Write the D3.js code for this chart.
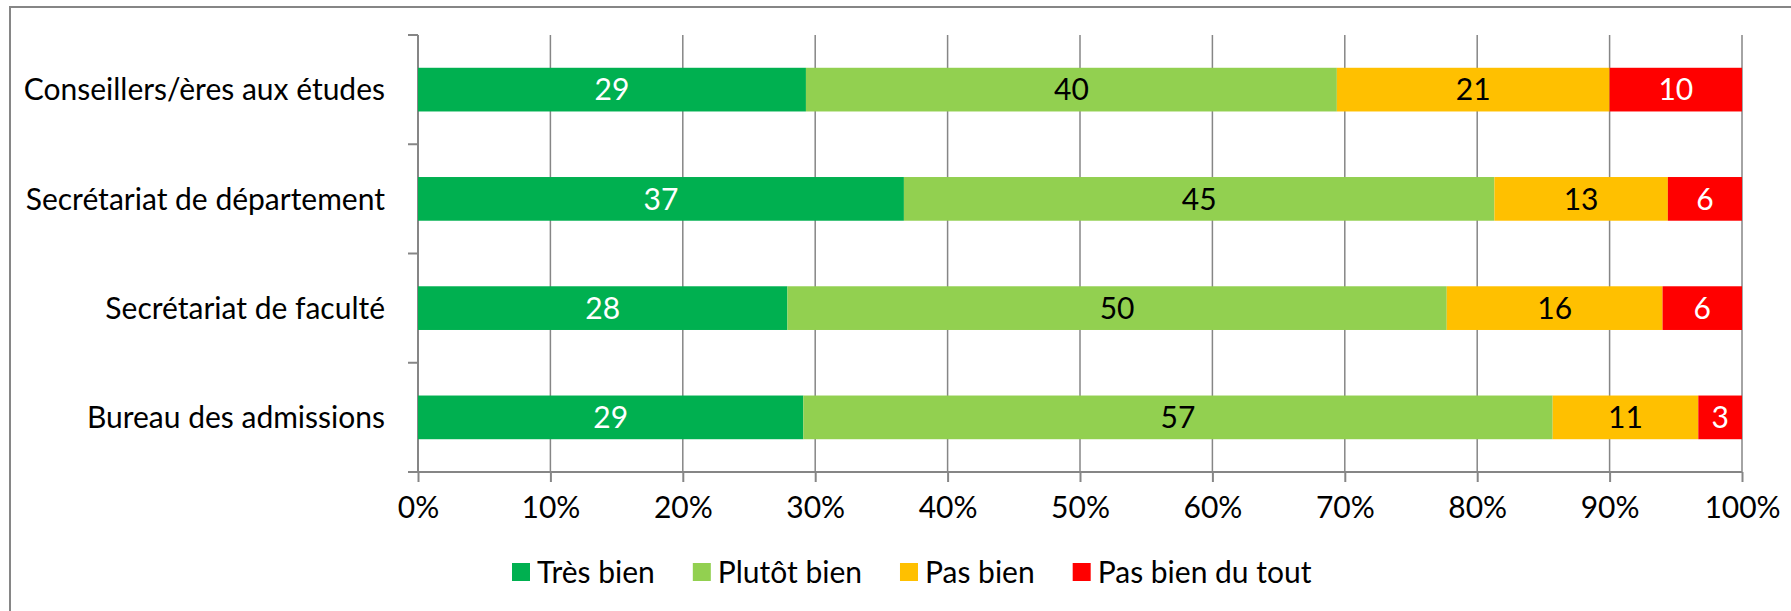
<!DOCTYPE html>
<html>
<head>
<meta charset="utf-8">
<script src="https://cdn.jsdelivr.net/npm/d3@7"></script>
<style>
    body { margin: 0; background: #fff; }
    text { font-family: Lato, "Open Sans", sans-serif; fill: #000; }
</style>
</head>
<body>
<div id="graph"></div>
<script>

const categories = ["Conseillers/ères aux études", "Secrétariat de département", "Secrétariat de faculté", "Bureau des admissions"]
const series = ["Très bien", "Plutôt bien", "Pas bien", "Pas bien du tout"]
const tresBien = [29.3, 36.7, 27.9, 29.1]
const plutotBien = [40.1, 44.6, 49.8, 56.6]
const pasBien = [20.6, 13.1, 16.3, 11.0]
const pasBienDuTout = [10.0, 5.6, 6.0, 3.3]
const xTicks = [0, 10, 20, 30, 40, 50, 60, 70, 80, 90, 100]

const colors = ["#00B050", "#92D050", "#FFC000", "#FF0000"]
const labelColors = ["#fff", "#000", "#000", "#fff"]
const gray = "#868686"

const width = 1791, height = 611
const plot = {left: 418, right: 1742, top: 35, bottom: 472}
const fontSize = 30

let rows = categories.map(function(c, i) {
    return {
        cat: c,
        "Très bien": tresBien[i],
        "Plutôt bien": plutotBien[i],
        "Pas bien": pasBien[i],
        "Pas bien du tout": pasBienDuTout[i]
    }
})

let stacked = d3.stack().keys(series)(rows)

let svg = d3.select("#graph")
    .append("svg")
    .attr("width", width)
    .attr("height", height)

// chart frame (runs off the right and bottom edges)
svg.append("rect")
    .attr("x", 10)
    .attr("y", 7)
    .attr("width", width + 20)
    .attr("height", height + 20)
    .attr("fill", "none")
    .attr("stroke", gray)
    .attr("stroke-width", 2)

let x = d3.scaleLinear()
    .domain([0, 100])
    .range([plot.left, plot.right])

let y = d3.scaleBand()
    .domain(categories)
    .range([plot.top, plot.bottom])
    .paddingInner(0.6)
    .paddingOuter(0.3)

// vertical gridlines
svg.append("g")
    .selectAll("line")
    .data(xTicks.slice(1))
    .enter()
    .append("line")
    .attr("x1", d => x(d))
    .attr("x2", d => x(d))
    .attr("y1", plot.top)
    .attr("y2", plot.bottom)
    .style("stroke", gray)
    .style("stroke-width", 1.5)

// x axis
let xAxis = svg.append("g")
    .attr("transform", `translate(0, ${plot.bottom})`)
    .call(d3.axisBottom(x)
        .tickValues(xTicks)
        .tickFormat(d => d + "%")
        .tickSize(10)
        .tickPadding(15))

xAxis.select(".domain").remove()
xAxis.selectAll("line").style("stroke", gray).style("stroke-width", 2)
xAxis.selectAll("text")
    .style("font-size", fontSize + "px")
    .style("font-family", "Lato, sans-serif")
    .attr("fill", "#000")

svg.append("line")
    .attr("x1", plot.left - 10)
    .attr("x2", plot.right)
    .attr("y1", plot.bottom)
    .attr("y2", plot.bottom)
    .style("stroke", gray)
    .style("stroke-width", 2)

// y axis line + ticks between categories
svg.append("line")
    .attr("x1", plot.left)
    .attr("x2", plot.left)
    .attr("y1", plot.top)
    .attr("y2", plot.bottom)
    .style("stroke", gray)
    .style("stroke-width", 2)

svg.append("g")
    .selectAll("line")
    .data(d3.range(categories.length + 1))
    .enter()
    .append("line")
    .attr("x1", plot.left - 10)
    .attr("x2", plot.left)
    .attr("y1", i => plot.top + i * y.step())
    .attr("y2", i => plot.top + i * y.step())
    .style("stroke", gray)
    .style("stroke-width", 2)

svg.append("g")
    .selectAll("text")
    .data(categories)
    .enter()
    .append("text")
    .attr("x", plot.left - 33)
    .attr("y", d => y(d) + y.bandwidth() / 2)
    .attr("dy", "0.36em")
    .style("text-anchor", "end")
    .style("font-size", fontSize + "px")
    .text(d => d)

// bars
let layer = svg.append("g")
    .selectAll("g")
    .data(stacked)
    .enter()
    .append("g")
    .attr("fill", (d, i) => colors[i])

layer.selectAll("rect")
    .data(d => d)
    .enter()
    .append("rect")
    .attr("x", d => x(d[0]))
    .attr("y", d => y(d.data.cat))
    .attr("width", d => x(d[1]) - x(d[0]))
    .attr("height", y.bandwidth())

layer.each(function(s, si) {
    d3.select(this).selectAll("text")
        .data(s)
        .enter()
        .append("text")
        .attr("x", d => (x(d[0]) + x(d[1])) / 2)
        .attr("y", d => y(d.data.cat) + y.bandwidth() / 2)
        .attr("dy", "0.36em")
        .style("text-anchor", "middle")
        .style("font-size", fontSize + "px")
        .style("fill", labelColors[si])
        .text(d => Math.round(d[1] - d[0]))
})

// legend
let legend = svg.append("g")
    .attr("transform", "translate(512, 572)")

let lx = 0
series.forEach(function(name, i) {
    let item = legend.append("g").attr("transform", `translate(${lx}, 0)`)
    item.append("rect")
        .attr("x", 0)
        .attr("y", -9)
        .attr("width", 18)
        .attr("height", 18)
        .attr("fill", colors[i])
    let t = item.append("text")
        .attr("x", 25)
        .attr("y", 0)
        .attr("dy", "0.36em")
        .style("font-size", fontSize + "px")
        .text(name)
    lx += 25 + t.node().getComputedTextLength() + 38
})

</script>
</body>
</html>
